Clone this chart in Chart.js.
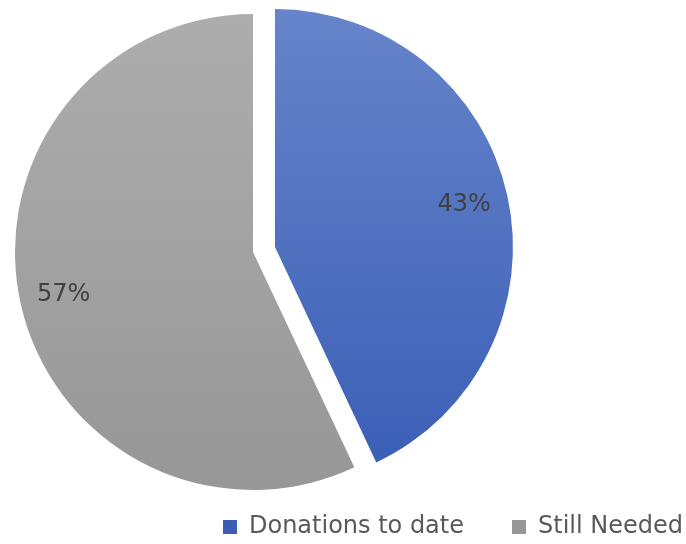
<!DOCTYPE html>
<html>
<head>
<meta charset="utf-8">
<script src="https://cdn.jsdelivr.net/npm/chart.js@4/dist/chart.umd.min.js"></script>
<style>
  html, body { margin: 0; padding: 0; background: #fff; overflow: hidden; }
  #wrap { width: 686px; height: 544px; }
</style>
</head>
<body>
<div id="wrap"><canvas id="myChart"></canvas></div>
<script>
const categories = ['Donations to date', 'Still Needed'];
const percents = [43, 57];
const topColors = ['#6584c9', '#adadad'];
const bottomColors = ['#3a5db6', '#979797'];

// the "Donations" slice is pulled out of the pie
const explodePlugin = {
    id: 'explode',
    afterDatasetsUpdate(chart, args, opts) {
        const arc = chart.getDatasetMeta(0).data[opts.index];
        const mid = (arc.startAngle + arc.endAngle) / 2;
        arc.x += Math.cos(mid) * opts.distance;
        arc.y += Math.sin(mid) * opts.distance;
    }
};

// percent text inside each slice
const sliceLabels = {
    id: 'sliceLabels',
    afterDatasetsDraw(chart, args, opts) {
        const ctx = chart.ctx;
        const values = chart.data.datasets[0].data;
        ctx.save();
        ctx.font = opts.font;
        ctx.fillStyle = opts.color;
        ctx.textAlign = 'center';
        ctx.textBaseline = 'middle';
        chart.getDatasetMeta(0).data.forEach((arc, i) => {
            const mid = (arc.startAngle + arc.endAngle) / 2;
            const r = arc.outerRadius * opts.at;
            ctx.fillText(values[i] + '%', arc.x + Math.cos(mid) * r, arc.y + Math.sin(mid) * r);
        });
        ctx.restore();
    }
};

// legend sits bottom right, wider than the pie's chart area
const legendSpot = {
    id: 'legendSpot',
    afterLayout(chart, args, opts) {
        const lg = chart.legend;
        const right = opts.textEnd + lg.options.labels.padding;
        lg.update(right, chart.height, {left: 0, top: 0, right: 0, bottom: 0});
        lg.left = 0;
        lg.right = right;
        lg.width = right;
        lg.top = opts.top;
        lg.bottom = chart.height;
        lg.height = lg.bottom - lg.top;
    }
};

const sliceFill = (c) => {
    const i = c.dataIndex;
    const area = c.chart.chartArea;
    if (!area) return topColors[i];
    const g = c.chart.ctx.createLinearGradient(0, area.top, 0, area.bottom);
    g.addColorStop(0, topColors[i]);
    g.addColorStop(1, bottomColors[i]);
    return g;
};

const ctx = document.getElementById('myChart').getContext('2d');
let myChart = new Chart(ctx, {
    type: 'pie',
    data: {
        labels: categories,
        datasets: [{
            data: percents,
            backgroundColor: sliceFill,
            borderWidth: 0
        }]
    },
    plugins: [explodePlugin, sliceLabels, legendSpot],
    options: {
        responsive: true,
        maintainAspectRatio: false,
        animation: false,
        events: [],
        layout: {
            padding: { left: 15, right: 195, top: 14, bottom: 0 }
        },
        plugins: {
            tooltip: { enabled: false },
            explode: { index: 0, distance: 22.5 },
            sliceLabels: { font: '24px "DejaVu Sans"', color: '#404040', at: 0.815 },
            legendSpot: { textEnd: 683, top: 467 },
            legend: {
                position: 'bottom',
                align: 'end',
                maxHeight: 54,
                labels: {
                    boxWidth: 14,
                    boxHeight: 14,
                    padding: 48,
                    color: '#595959',
                    font: { family: 'DejaVu Sans', size: 24 }
                }
            }
        }
    }
});
</script>
</body>
</html>
